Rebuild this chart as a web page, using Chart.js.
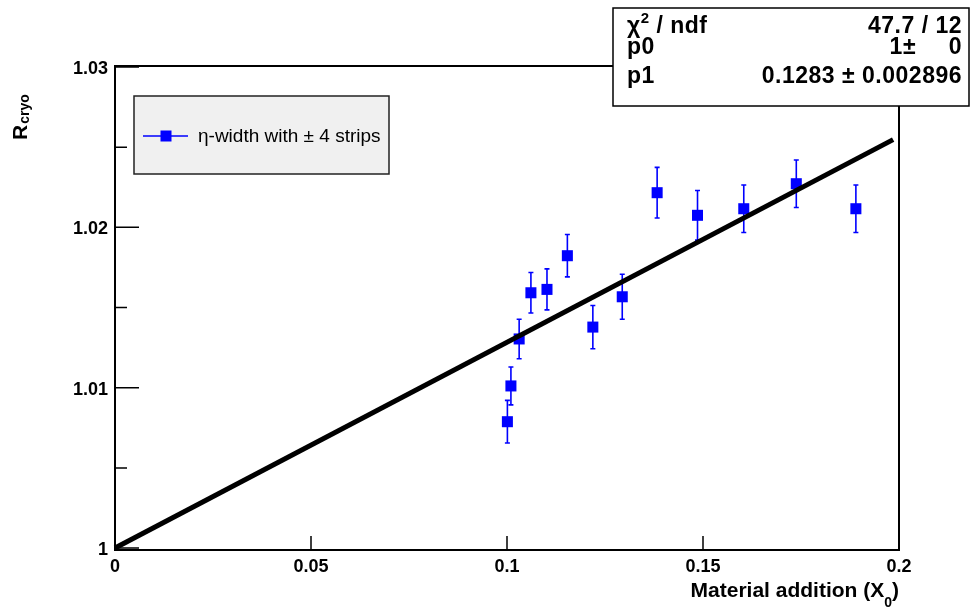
<!DOCTYPE html>
<html>
<head>
<meta charset="utf-8">
<script src="https://cdn.jsdelivr.net/npm/chart.js@4.4.1/dist/chart.umd.min.js"></script>
<style>
  body { margin: 0; background: #fff; }
  canvas { display: block; }
</style>
</head>
<body>
<canvas id="myChart" width="972" height="609"></canvas>
<script>
// points
var material = [0.1001, 0.1010, 0.1031, 0.1061, 0.1102, 0.1154, 0.1219, 0.1294, 0.1383, 0.1486, 0.1604, 0.1738, 0.1890];
var rCryo = [1.00788, 1.01011, 1.01304, 1.01592, 1.01613, 1.01823, 1.01378, 1.01567, 1.02216, 1.02075, 1.02116, 1.02272, 1.02116];
var rErr = [0.00133, 0.00118, 0.00123, 0.00126, 0.00128, 0.00132, 0.00135, 0.00140, 0.00158, 0.00155, 0.00148, 0.00148, 0.00148];

// fit R = p0 + p1*x
var fitPars = [1, 0.1283];
var fitRange = [0, 0.1985];

var xTicks = [0, 0.05, 0.1, 0.15, 0.2];
var yTicks = [1, 1.01, 1.02, 1.03];
var yMinorTicks = [1.005, 1.015, 1.025];

var legendLabel = "\u03b7-width with \u00b1 4 strips";
var statNames = ["p0", "p1"];
var statValues = [["1\u00b1", "0"], ["0.1283 \u00b1 0.002896", ""]];
var chiText = "47.7 / 12";

var FONT = '"Liberation Sans", Arial, sans-serif';

function fmt(v) {
  return parseFloat(v.toFixed(3)).toString();
}

var rootStyle = {
  id: 'rootStyle',
  beforeDatasetsDraw: function(chart) {
    // error bars
    var ctx = chart.ctx, xs = chart.scales.x, ys = chart.scales.y;
    ctx.save();
    ctx.strokeStyle = '#0000ff';
    ctx.lineWidth = 1.6;
    material.forEach(function(x, i) {
      var px = xs.getPixelForValue(x);
      var top = ys.getPixelForValue(rCryo[i] + rErr[i]);
      var bot = ys.getPixelForValue(rCryo[i] - rErr[i]);
      ctx.beginPath();
      ctx.moveTo(px, top); ctx.lineTo(px, bot);
      ctx.moveTo(px - 2.5, top); ctx.lineTo(px + 2.5, top);
      ctx.moveTo(px - 2.5, bot); ctx.lineTo(px + 2.5, bot);
      ctx.stroke();
    });
    ctx.restore();
  },
  afterDatasetsDraw: function(chart) {
    // frame + inward ticks
    var ctx = chart.ctx, a = chart.chartArea, xs = chart.scales.x, ys = chart.scales.y;
    ctx.save();
    ctx.strokeStyle = '#000';
    ctx.lineWidth = 2;
    ctx.strokeRect(a.left, a.top, a.right - a.left, a.bottom - a.top);
    ctx.lineWidth = 1.5;
    ctx.beginPath();
    xTicks.forEach(function(v) {
      var px = xs.getPixelForValue(v);
      ctx.moveTo(px, a.bottom); ctx.lineTo(px, a.bottom - 14);
    });
    yTicks.forEach(function(v) {
      var py = ys.getPixelForValue(v);
      ctx.moveTo(a.left, py); ctx.lineTo(a.left + 24, py);
    });
    yMinorTicks.forEach(function(v) {
      var py = ys.getPixelForValue(v);
      ctx.moveTo(a.left, py); ctx.lineTo(a.left + 12, py);
    });
    ctx.stroke();
    ctx.restore();
  },
  afterDraw: function(chart) {
    var ctx = chart.ctx;
    ctx.save();
    ctx.fillStyle = '#000';
    ctx.textBaseline = 'alphabetic';

    // x title, right aligned to the frame
    var a = chart.chartArea;
    ctx.font = 'bold 21px ' + FONT;
    var main = "Material addition (X";
    var w1 = ctx.measureText(main).width;
    ctx.font = 'bold 14px ' + FONT;
    var w2 = ctx.measureText("0").width;
    ctx.font = 'bold 21px ' + FONT;
    var w3 = ctx.measureText(")").width;
    var x0 = a.right - (w1 + w2 + w3);
    ctx.textAlign = 'left';
    ctx.fillText(main, x0, 597);
    ctx.font = 'bold 14px ' + FONT;
    ctx.fillText("0", x0 + w1, 607);
    ctx.font = 'bold 21px ' + FONT;
    ctx.fillText(")", x0 + w1 + w2, 597);

    // y title, rotated
    ctx.save();
    ctx.translate(27, 140);
    ctx.rotate(-Math.PI / 2);
    ctx.font = 'bold 21px ' + FONT;
    ctx.fillText("R", 0, 0);
    var rw = ctx.measureText("R").width;
    ctx.font = 'bold 14px ' + FONT;
    ctx.fillText("cryo", rw + 1, 2);
    ctx.restore();

    // legend box
    ctx.fillStyle = '#f0f0f0';
    ctx.fillRect(134, 96, 255, 78);
    ctx.strokeStyle = '#222';
    ctx.lineWidth = 1.5;
    ctx.strokeRect(134, 96, 255, 78);
    ctx.strokeStyle = '#0000ff';
    ctx.beginPath();
    ctx.moveTo(143, 136); ctx.lineTo(188, 136);
    ctx.stroke();
    ctx.fillStyle = '#0000ff';
    ctx.fillRect(160.5, 130.5, 11, 11);
    ctx.fillStyle = '#000';
    ctx.font = '19px ' + FONT;
    ctx.fillText(legendLabel, 198, 142);

    // fit statistics box
    ctx.fillStyle = '#fff';
    ctx.fillRect(613, 8, 356, 98);
    ctx.strokeStyle = '#000';
    ctx.lineWidth = 1.5;
    ctx.strokeRect(613, 8, 356, 98);
    ctx.fillStyle = '#000';
    if ('letterSpacing' in ctx) ctx.letterSpacing = '0.5px';
    ctx.font = 'bold 23px ' + FONT;
    ctx.textAlign = 'left';
    ctx.fillText("\u03c7", 627, 33);
    var cw = ctx.measureText("\u03c7").width;
    ctx.font = 'bold 15px ' + FONT;
    ctx.fillText("2", 627 + cw, 23);
    var sw = ctx.measureText("2").width;
    ctx.font = 'bold 23px ' + FONT;
    ctx.fillText(" / ndf", 627 + cw + sw, 33);
    ctx.fillText(statNames[0], 627, 54);
    ctx.fillText(statNames[1], 627, 83);
    ctx.textAlign = 'right';
    ctx.fillText(chiText, 962, 33);
    ctx.fillText(statValues[0][0], 916, 54);
    ctx.fillText(statValues[0][1], 962, 54);
    ctx.fillText(statValues[1][0], 962, 83);
    if ('letterSpacing' in ctx) ctx.letterSpacing = '0px';
    ctx.restore();
  }
};

var ctx = document.getElementById("myChart").getContext('2d');
var myChart = new Chart(ctx, {
  type: 'scatter',
  data: {
    datasets: [{
      label: legendLabel,
      data: material.map(function(x, i) { return {x: x, y: rCryo[i]}; }),
      pointStyle: 'rect',
      pointRadius: 7.8,
      pointHoverRadius: 7.8,
      backgroundColor: '#0000ff',
      borderColor: '#0000ff',
      borderWidth: 0,
      showLine: false,
      order: 1
    }, {
      label: 'fit',
      data: fitRange.map(function(x) { return {x: x, y: fitPars[0] + fitPars[1] * x}; }),
      showLine: true,
      borderColor: '#000',
      borderWidth: 5,
      pointRadius: 0,
      tension: 0,
      clip: false,
      order: 0
    }]
  },
  options: {
    responsive: false,
    animation: false,
    layout: { padding: { top: 66, right: 73, left: 0, bottom: 0 } },
    plugins: { legend: { display: false }, tooltip: { enabled: false } },
    scales: {
      x: {
        type: 'linear',
        min: 0,
        max: 0.2,
        afterBuildTicks: function(s) { s.ticks = xTicks.map(function(v) { return {value: v}; }); },
        afterFit: function(s) { s.height = 59; },
        grid: { display: false, drawTicks: false },
        border: { display: false },
        ticks: {
          color: '#000',
          font: { family: FONT, size: 18, weight: 'bold' },
          padding: 6,
          maxRotation: 0,
          autoSkip: false,
          callback: function(v) { return fmt(v); }
        }
      },
      y: {
        type: 'linear',
        min: 0.99988,
        max: 1.03006,
        afterBuildTicks: function(s) { s.ticks = yTicks.map(function(v) { return {value: v}; }); },
        afterFit: function(s) { s.width = 115; },
        grid: { display: false, drawTicks: false },
        border: { display: false },
        ticks: {
          color: '#000',
          font: { family: FONT, size: 18, weight: 'bold' },
          padding: 7,
          labelOffset: 2,
          autoSkip: false,
          callback: function(v) { return fmt(v); }
        }
      }
    }
  },
  plugins: [rootStyle]
});
</script>
</body>
</html>
